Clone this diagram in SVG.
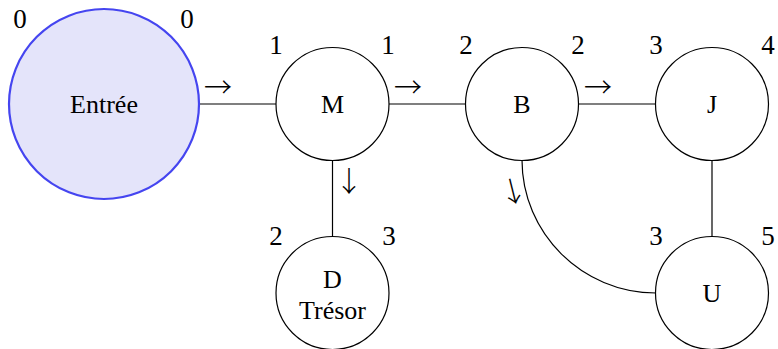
<svg xmlns="http://www.w3.org/2000/svg" width="778" height="349" viewBox="0 0 778 349">
<style>
.c{text-anchor:middle}
.n{text-anchor:middle;font-size:27px}
.arr{font-family:"Noto Sans CJK JP","DejaVu Sans",sans-serif;font-size:28px;font-weight:300;text-anchor:middle}
.node{fill:#fff;stroke:#000;stroke-width:1.2}
.start{fill:#e4e4fa;stroke:#4545f0;stroke-width:2.2}
.edge{fill:none;stroke:#000;stroke-width:1.2}
</style>
<rect width="778" height="349" fill="#fff"/>
<g font-family="'Liberation Serif', 'DejaVu Serif', serif" font-size="26" fill="#000">
<g id="connectors">
<line class="edge" x1="199" y1="104" x2="276" y2="104"/>
<line class="edge" x1="389" y1="104" x2="466" y2="104"/>
<line class="edge" x1="578" y1="104" x2="656" y2="104"/>
<line class="edge" x1="332.5" y1="160" x2="332.5" y2="237"/>
<line class="edge" x1="712" y1="160" x2="712" y2="237"/>
<path class="edge" d="M522,160 C522,233 582,293 656,293"/>
<text class="arr" x="218" y="98">→</text>
<text class="arr" x="408" y="98">→</text>
<text class="arr" x="598" y="98">→</text>
<text class="arr" x="349" y="192">↓</text>
<text class="arr" transform="translate(513,192) rotate(-14)" x="0" y="10">↓</text>
</g>
<g id="entree">
<circle class="start" cx="104" cy="104" r="95"/>
<text class="c" x="104" y="113">Entrée</text>
<text class="n" x="20" y="28">0</text>
<text class="n" x="187" y="28">0</text>
</g>
<g id="M">
<circle class="node" cx="332.5" cy="104" r="56.5"/>
<text class="c" x="332.5" y="113">M</text>
<text class="n" x="276" y="54">1</text>
<text class="n" x="388" y="54">1</text>
</g>
<g id="B">
<circle class="node" cx="522" cy="104" r="56.5"/>
<text class="c" x="522" y="113">B</text>
<text class="n" x="466" y="54">2</text>
<text class="n" x="578" y="54">2</text>
</g>
<g id="J">
<circle class="node" cx="712" cy="104" r="56.5"/>
<text class="c" x="712" y="113">J</text>
<text class="n" x="656" y="54">3</text>
<text class="n" x="768" y="54">4</text>
</g>
<g id="D">
<circle class="node" cx="332.5" cy="293" r="56.5"/>
<text class="c" x="332.5" y="288">D</text>
<text class="c" x="332.5" y="319">Trésor</text>
<text class="n" x="276" y="245">2</text>
<text class="n" x="389" y="245">3</text>
</g>
<g id="U">
<circle class="node" cx="712" cy="293" r="56.5"/>
<text class="c" x="712" y="302">U</text>
<text class="n" x="656" y="245">3</text>
<text class="n" x="768" y="245">5</text>
</g>
</g>
</svg>
